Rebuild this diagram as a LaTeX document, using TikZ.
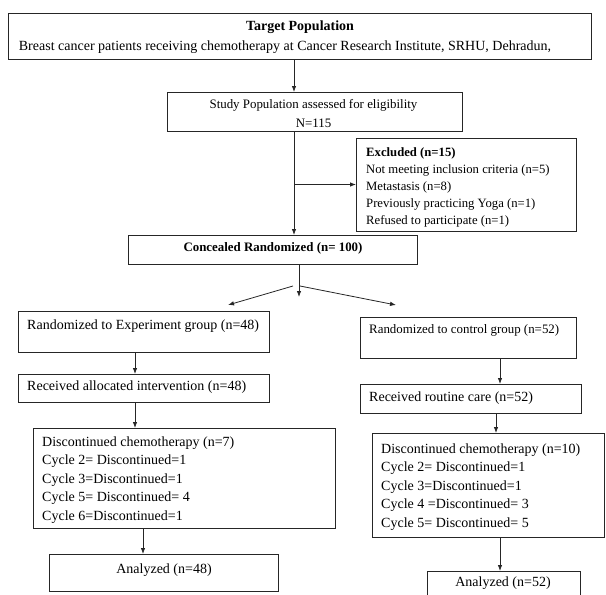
\documentclass[tikz,border=0pt]{standalone}
\usepackage{fontspec}
\setmainfont{Liberation Serif}
\usetikzlibrary{arrows.meta}
\newcommand\fsz{\fontsize{14pt}{18.4pt}\selectfont}
\newcommand\fsm{\fontsize{12.9pt}{16pt}\selectfont}
\newcommand\fsx{\fontsize{12.7pt}{17pt}\selectfont}
\begin{document}
\begin{tikzpicture}[x=1pt,y=-1pt,
  box/.style={draw=black!85, line width=1pt, inner sep=0pt, outer sep=0pt},
  txt/.style={inner sep=0pt, font=\fsz, text=black},
  arr/.style={draw=black!85, line width=0.8pt, -{Latex[length=6pt,width=4.5pt]}},
  ln/.style={draw=black!85, line width=0.8pt}]
\useasboundingbox (0,0) rectangle (606,595);
\clip (0,0) rectangle (606,595);
% boxes
\node[box, minimum width=583pt, minimum height=46pt] (top) at (299.5,36) {};
\node[box, minimum width=295pt, minimum height=39pt] (stud) at (314.5,111.5) {};
\node[box, minimum width=220pt, minimum height=93pt] (excl) at (466,184.5) {};
\node[box, minimum width=289pt, minimum height=29pt] (conc) at (272.5,249.5) {};
\node[box, minimum width=251pt, minimum height=41pt] (rexp) at (143.5,331.5) {};
\node[box, minimum width=216pt, minimum height=41pt] (rctl) at (468,337.5) {};
\node[box, minimum width=251pt, minimum height=28pt] (reca) at (143.5,388) {};
\node[box, minimum width=221pt, minimum height=29pt] (recr) at (470.5,398.5) {};
\node[box, minimum width=302pt, minimum height=100pt] (disa) at (184,478) {};
\node[box, minimum width=232pt, minimum height=104pt] (disr) at (488.5,485) {};
\node[box, minimum width=229pt, minimum height=37pt] (ana) at (163.5,572.5) {};
\node[box, minimum width=153pt, minimum height=40pt] (anr) at (503.5,591) {};
% texts
\node[txt, font=\fsz\bfseries] (toptitle) at (300,27) {Target Population};
\node[txt] (topline) at (285,47) {Breast cancer patients receiving chemotherapy at Cancer Research Institute, SRHU, Dehradun,};
\node[txt, font=\fsm] (studt1) at (313.5,105) {Study Population assessed for eligibility};
\node[txt, font=\fsm] (studt2) at (313.5,123) {N=115};
\node[txt, font=\fsx, align=left, anchor=west] (exclt) at (366,187) {\textbf{Excluded (n=15)}\\Not meeting inclusion criteria (n=5)\\Metastasis (n=8)\\Previously practicing Yoga (n=1)\\Refused to participate (n=1)};
\node[txt, font=\fsm\bfseries] (conct) at (273,248) {Concealed Randomized (n= 100)};
\node[txt, anchor=west] (rexpt) at (27,326) {Randomized to Experiment group (n=48)};
\node[txt, font=\fsm, anchor=west] (rctlt) at (369,330) {Randomized to control group (n=52)};
\node[txt, anchor=west] (recat) at (27,387) {Received allocated intervention (n=48)};
\node[txt, anchor=west] (recrt) at (369,398.5) {Received routine care (n=52)};
\node[txt, align=left, anchor=west] (disat) at (42,480) {Discontinued chemotherapy (n=7)\\Cycle 2= Discontinued=1\\Cycle 3=Discontinued=1\\Cycle 5= Discontinued= 4\\Cycle 6=Discontinued=1};
\node[txt, align=left, anchor=west] (disrt) at (381,487) {Discontinued chemotherapy (n=10)\\Cycle 2= Discontinued=1\\Cycle 3=Discontinued=1\\Cycle 4 =Discontinued= 3\\Cycle 5= Discontinued= 5};
\node[txt] (anat) at (164,570) {Analyzed (n=48)};
\node[txt] (anrt) at (503,583) {Analyzed (n=52)};
% connectors
\draw[arr] ([xshift=-5.5pt]top.south) -- ([xshift=-20.5pt]stud.north);
\coordinate (split) at ([xshift=-20.5pt]stud.south);
\draw[arr] (split) -- ([xshift=21.5pt]conc.north);
\draw[arr] (split |- excl.west) -- (excl.west);
\coordinate (fork) at ([xshift=26.5pt]conc.south);
\coordinate (mid) at (299,297);
\coordinate (lt) at (228,305);
\coordinate (rt) at (396,305);
\coordinate (forkl) at (293,286);
\coordinate (forkr) at (300,286);
\draw[arr] (fork) -- (mid);
\draw[arr] (forkl) -- (lt);
\draw[arr] (forkr) -- (rt);
\draw[arr] ([xshift=-8.5pt]rexp.south) -- ([xshift=-8.5pt]reca.north);
\draw[arr] ([xshift=-8.5pt]reca.south) -- ([xshift=-49pt]disa.north);
\draw[arr] ([xshift=-41pt]disa.south) -- ([xshift=-20.5pt]ana.north);
\draw[arr] ([xshift=32pt]rctl.south) -- ([xshift=29.5pt]recr.north);
\draw[arr] ([xshift=25.5pt]recr.south) -- ([xshift=7.5pt]disr.north);
\draw[arr] ([xshift=11.5pt]disr.south) -- ([xshift=-3.5pt]anr.north);
\end{tikzpicture}
\end{document}
